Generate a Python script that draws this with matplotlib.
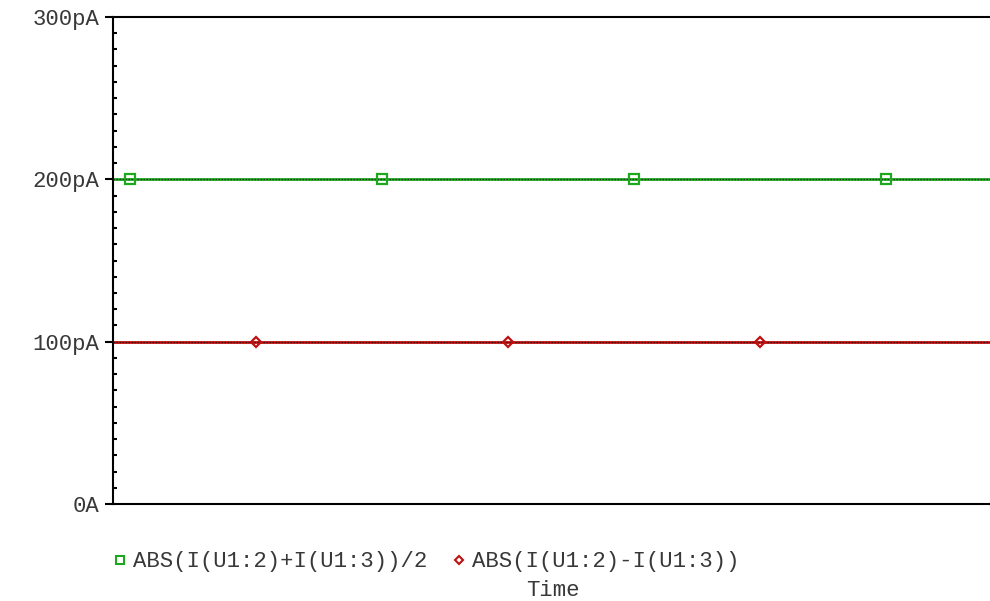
import matplotlib.pyplot as plt
from matplotlib.ticker import MultipleLocator, FixedLocator, FixedFormatter

# current traces (pA) over the sweep, time normalised to the plotted window
line_time = [0.0, 1.0]
sum_current = [200, 200]     # ABS(I(U1:2)+I(U1:3))/2
diff_current = [100, 100]    # ABS(I(U1:2)-I(U1:3))

# marker positions along each trace
sum_mark_time = [0.0194, 0.3067, 0.594, 0.8814]
diff_mark_time = [0.1631, 0.4504, 0.7377]

ytick_vals = [0, 100, 200, 300]
ytick_text = ["0A", "100pA", "200pA", "300pA"]

sum_label = "ABS(I(U1:2)+I(U1:3))/2"
diff_label = "ABS(I(U1:2)-I(U1:3))"

green = "#1ea81e"
red = "#bf1010"
txt = "#383838"
mono = "Liberation Mono"
fs = 16

fig = plt.figure(figsize=(9.9, 6.01), dpi=100)
W, H = 990, 601
ax = fig.add_axes([113 / W, (H - 504) / H, (W - 113) / W, (504 - 17) / H])

# traces: solid colour with a dark dotted line on top
dots = (0, (1.2, 1.2))
ax.plot(line_time, sum_current, color=green, lw=2.0, zorder=2)
ax.plot(line_time, sum_current, color="#1a3a1a", lw=0.9, ls=dots, zorder=3)
ax.plot(line_time, diff_current, color=red, lw=2.0, zorder=2)
ax.plot(line_time, diff_current, color="#3a1010", lw=0.9, ls=dots, zorder=3)

ax.plot(sum_mark_time, [sum_current[0]] * len(sum_mark_time), ls="none",
        marker="s", ms=6.5, mfc="none", mec=green, mew=1.6, zorder=4)
ax.plot(diff_mark_time, [diff_current[0]] * len(diff_mark_time), ls="none",
        marker="D", ms=5, mfc="none", mec=red, mew=1.6, zorder=4)

ax.set_xlim(0, 1)
ax.set_ylim(0, 300)

ax.spines["right"].set_visible(False)
for side in ("left", "top", "bottom"):
    ax.spines[side].set_linewidth(1.5)
    ax.spines[side].set_color("black")

ax.set_xticks([])
ax.yaxis.set_major_locator(FixedLocator(ytick_vals))
ax.yaxis.set_major_formatter(FixedFormatter(ytick_text))
ax.yaxis.set_minor_locator(MultipleLocator(10))
ax.tick_params(axis="y", which="major", direction="out", length=6, width=1.5,
               pad=4, labelsize=fs, labelcolor=txt)
ax.tick_params(axis="y", which="minor", direction="in", length=3, width=1.5)
for lab in ax.get_yticklabels():
    lab.set_family(mono)

# legend below the plot
h1, = ax.plot([], [], ls="none", marker="s", ms=5.5, mfc="none", mec=green, mew=1.5)
h2, = ax.plot([], [], ls="none", marker="D", ms=4.5, mfc="none", mec=red, mew=1.5)
leg = fig.legend([h1, h2], [sum_label, diff_label], loc="center left",
                 bbox_to_anchor=(93 / W, (H - 562) / H), ncol=2, frameon=False,
                 handlelength=0.6, handletextpad=0.28, columnspacing=1.15,
                 prop={"family": mono, "size": fs})
for t in leg.get_texts():
    t.set_color(txt)

fig.text(553 / W, (H - 590) / H, "Time", ha="center", va="center",
         family=mono, fontsize=fs, color=txt)

fig.savefig("out.png", dpi=100)
